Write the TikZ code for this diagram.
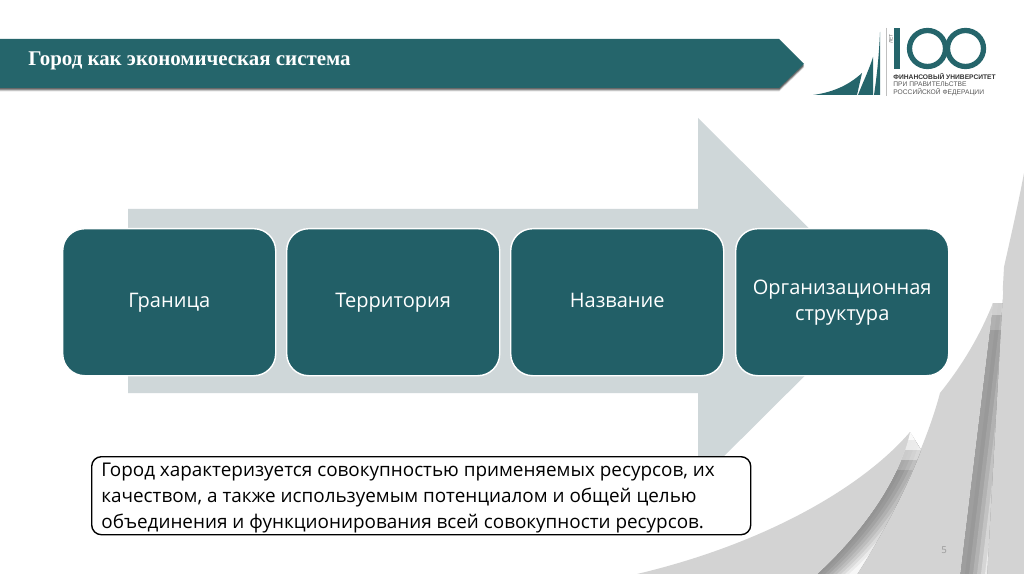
\documentclass[tikz,border=0pt]{standalone}
\usepackage{fontspec}
\setmainfont{Open Sans}
\newfontfamily\titlefont{Liberation Serif}
\newfontfamily\logofont{Liberation Sans}
\usetikzlibrary{positioning}
\definecolor{tealbar}{HTML}{25656B}
\definecolor{tealbox}{HTML}{225F67}
\definecolor{arrowgrey}{HTML}{CFD7D9}
\definecolor{curlgrey}{HTML}{D3D3D3}
\newcommand{\pxu}{*0.02cm}
\tikzset{
  stagebox/.style={draw=white, line width=.8pt, fill=tealbox, rounded corners=12.5pt, minimum width=213\pxu, minimum height=147\pxu,
    text=white, align=center, font=\fontsize{11.4}{14.8}\selectfont, anchor=north west, inner sep=0pt},
  stageone/.style={stagebox, text height=8.5pt, text depth=2.5pt},
  logoline/.style={anchor=west, inner sep=0pt, font=\logofont\fontsize{3.8}{5}\selectfont, text=#1},
}
\begin{document}
\begin{tikzpicture}[x=0.02cm, y=-0.02cm]
\useasboundingbox (0,0) rectangle (1024,574);
\fill [white] (0,0) rectangle (1024,574);
% page curl, bottom right
\fill [curlgrey] (1024,173) .. controls (1017,210) and (1010,240) .. (1004,267) -- (987,574) -- (1024,574) -- cycle;
\begin{scope}
\clip (993,303) -- (1003,290) -- (987,574) -- (960,574) -- cycle;
\fill [white] (950,280) rectangle (1010,574);
\foreach \d/\c in {0/38, 5/40, 9/36, 13/30, 17/24, 21/16, 25/8}
  \fill [black!\c, shift={(\d,0)}] (993,303) -- (960,574) -- (1030,574) -- (1030,303) -- cycle;
\foreach \y/\o in {285/.8, 300/.6, 315/.4, 330/.2}
  \fill [white, opacity=\o] (950,280) rectangle (1010,\y);
\end{scope}
\fill [curlgrey] (993,303) .. controls (978,340) and (960,368) .. (940,393) .. controls (925,450) and (890,520) .. (857,574) -- (960,574) -- cycle;
\begin{scope}
\clip (910,432) .. controls (900,480) and (860,535) .. (817,574) -- (857,574) .. controls (885,530) and (908,485) .. (921,450) -- cycle;
\foreach \d/\c in {0/42, 4/40, 8/36, 12/31, 16/26, 20/20, 24/14, 28/8, 32/3}
  \fill [black!\c, shift={(\d,0)}] (910,432) .. controls (900,480) and (860,535) .. (817,574) -- (1000,574) -- (1000,432) -- cycle;
\foreach \y/\o in {440/.8, 450/.6, 460/.4, 470/.2}
  \fill [white, opacity=\o] (880,425) rectangle (930,\y);
\end{scope}
\fill [curlgrey] (910,432) .. controls (860,490) and (760,545) .. (637,574) -- (817,574) .. controls (860,535) and (900,480) .. (910,432) -- cycle;
% big arrow behind the boxes
\fill [arrowgrey] (128,209) -- (698,209) -- (698,118) -- (881,300) -- (698,482) -- (698,393) -- (128,393) -- cycle;
% title bar
\foreach \d/\o in {3.5/.15, 2.5/.25, 1.5/.35}
  \fill [black, opacity=\o] (0,39+\d) -- (779,39+\d) -- (804,64+\d) -- (779,88+\d) -- (0,88+\d) -- cycle;
\fill [tealbar] (0,39) -- (779,39) -- (804,64) -- (779,88) -- (0,88) -- cycle;
\node [anchor=west, inner sep=0pt, text=white, font=\titlefont\bfseries\fontsize{11.9}{14}\selectfont] (title) at (28,61) {Город как экономическая система};
% stages
\node [stageone] (granica) at (62,228) {Граница};
\node [stageone] (territoria) at (286,228) {Территория};
\node [stageone] (nazvanie) at (510,228) {Название};
\node [stagebox] (struktura) at (735,228) {Организационная\\структура};
% note
\node [draw=black, line width=.8pt, fill=white, rounded corners=5.5pt, anchor=north west, minimum width=659\pxu, minimum height=78\pxu, inner sep=0pt] (note) at (91,456) {};
\node [anchor=west, inner sep=0pt, align=left, font=\fontsize{10.75}{15}\selectfont] (notetext) at (101,498) {Город характеризуется совокупностью применяемых ресурсов, их\\качеством, а также используемым потенциалом и общей целью\\объединения и функционирования всей совокупности ресурсов.};
\node [inner sep=0pt, text=black!40, font=\fontsize{5.5}{7}\selectfont] (pagenum) at (944,550) {5};
% logo
\fill [tealbar] (813,95) .. controls (835,92) and (850,84) .. (862,73) -- (857,95) -- cycle;
\fill [tealbar] (858,95) .. controls (863,82) and (869,70) .. (873,57) -- (873,95) -- cycle;
\fill [tealbar] (874,95) .. controls (877,75) and (879,55) .. (880,32) -- (880,95) -- cycle;
\draw [black!25, line width=.5pt] (886,28) -- (886,96);
\fill [tealbar] (894,28) rectangle (900,69);
\draw [tealbar, line width=3pt] (927.5,48.5) circle (18);
\draw [tealbar, line width=3pt] (965.5,48.5) circle (18);
\node [rotate=90, inner sep=0pt, text=black!60, font=\logofont\fontsize{2.8}{3}\selectfont] (let) at (891,39) {ЛЕТ};
\node [logoline=black!80, font=\logofont\bfseries\fontsize{3.8}{5}\selectfont] (fin) at (893,76.5) {ФИНАНСОВЫЙ УНИВЕРСИТЕТ};
\node [logoline=black!65] (pri) at (893,84.5) {ПРИ ПРАВИТЕЛЬСТВЕ};
\node [logoline=black!65] (ros) at (893,92.5) {РОССИЙСКОЙ ФЕДЕРАЦИИ};
\end{tikzpicture}
\end{document}
